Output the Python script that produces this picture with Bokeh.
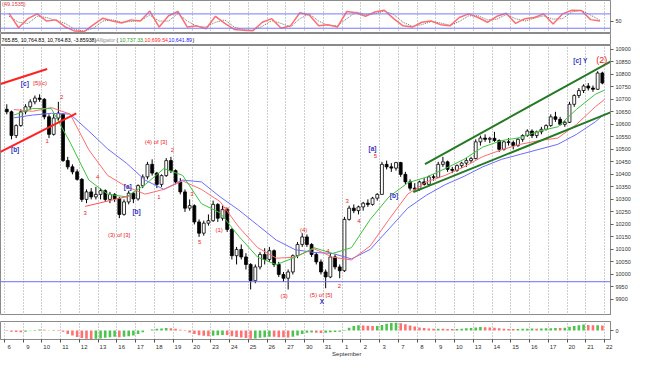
from bokeh.plotting import figure
from bokeh.layouts import column
from bokeh.models import Range1d, FixedTicker, Label, ColumnDataSource, Span
from bokeh.embed import file_html
from bokeh.resources import INLINE
from bokeh.core.properties import value

FONT = "Liberation Sans"

# ---------------- data ----------------
day_labels = ["6", "9", "10", "11", "12", "13", "16", "17", "18", "19", "20", "23", "24", "25",
              "26", "27", "30", "31", "1\nSeptember", "2", "3", "7", "8", "9", "10", "13", "14",
              "15", "16", "17", "20", "21", "22"]
BARS_PER_DAY = 4

opens = [10660, 10650, 10555, 10595, 10650, 10670, 10690, 10705, 10700, 10630, 10560, 10625,
         10640, 10455, 10430, 10410, 10380, 10300, 10330, 10310, 10320, 10335, 10300, 10320,
         10303, 10240, 10290, 10325, 10302, 10355, 10390, 10440, 10405, 10360, 10395, 10455,
         10415, 10370, 10330, 10265, 10275, 10210, 10165, 10205, 10215, 10280, 10225, 10260,
         10180, 10075, 10100, 10070, 10040, 9975, 10030, 10080, 10060, 10095, 10040, 10000,
         9985, 10010, 10075, 10120, 10150, 10120, 10080, 10050, 10010, 9990, 10070, 10030,
         10015, 10220, 10265, 10255, 10270, 10285, 10280, 10305, 10320, 10440, 10430, 10425,
         10447, 10400, 10370, 10345, 10341, 10370, 10360, 10390, 10388, 10440, 10450, 10420,
         10416, 10435, 10445, 10455, 10463, 10530, 10545, 10540, 10544, 10535, 10500, 10530,
         10527, 10515, 10540, 10555, 10573, 10555, 10570, 10580, 10595, 10630, 10620, 10600,
         10608, 10680, 10715, 10735, 10753, 10745, 10740, 10805]
highs = [10680, 10655, 10600, 10660, 10680, 10700, 10715, 10720, 10705, 10640, 10640, 10690,
         10645, 10470, 10440, 10420, 10385, 10340, 10345, 10350, 10345, 10340, 10330, 10325,
         10310, 10300, 10335, 10330, 10360, 10400, 10450, 10460, 10410, 10400, 10465, 10470,
         10420, 10385, 10340, 10300, 10280, 10220, 10215, 10240, 10295, 10285, 10275, 10265,
         10185, 10110, 10120, 10085, 10045, 10040, 10090, 10105, 10110, 10100, 10050, 10010,
         10020, 10080, 10130, 10165, 10160, 10125, 10090, 10060, 10020, 10085, 10080, 10040,
         10230, 10275, 10280, 10275, 10290, 10300, 10310, 10325, 10450, 10455, 10445, 10450,
         10450, 10410, 10380, 10365, 10375, 10385, 10395, 10400, 10450, 10470, 10455, 10430,
         10440, 10450, 10465, 10470, 10540, 10555, 10560, 10550, 10570, 10540, 10535, 10545,
         10535, 10545, 10560, 10580, 10580, 10575, 10590, 10600, 10640, 10650, 10630, 10615,
         10690, 10720, 10745, 10760, 10765, 10755, 10812, 10810]
lows = [10640, 10540, 10545, 10590, 10640, 10660, 10680, 10690, 10620, 10545, 10555, 10615,
        10450, 10420, 10400, 10375, 10290, 10285, 10300, 10300, 10300, 10290, 10285, 10290,
        10225, 10235, 10280, 10285, 10295, 10345, 10380, 10395, 10345, 10350, 10390, 10405,
        10360, 10320, 10250, 10255, 10200, 10150, 10155, 10195, 10210, 10210, 10215, 10170,
        10060, 10040, 10060, 10020, 9940, 9965, 10020, 10040, 10050, 10030, 9990, 9970,
        9940, 10000, 10065, 10110, 10110, 10070, 10040, 10000, 9945, 9985, 10020, 9985,
        10010, 10215, 10245, 10240, 10255, 10270, 10275, 10295, 10318, 10420, 10410, 10415,
        10390, 10360, 10335, 10335, 10335, 10355, 10355, 10375, 10385, 10430, 10410, 10405,
        10410, 10425, 10430, 10445, 10460, 10515, 10530, 10525, 10530, 10490, 10495, 10515,
        10500, 10510, 10530, 10550, 10545, 10545, 10560, 10575, 10590, 10610, 10595, 10590,
        10605, 10670, 10705, 10725, 10735, 10730, 10738, 10760]
closes = [10650, 10555, 10595, 10650, 10670, 10690, 10705, 10700, 10630, 10560, 10625, 10645,
          10455, 10430, 10410, 10380, 10300, 10330, 10310, 10320, 10335, 10300, 10320, 10303,
          10240, 10290, 10325, 10302, 10355, 10390, 10440, 10405, 10360, 10395, 10455, 10415,
          10370, 10330, 10265, 10275, 10210, 10165, 10205, 10215, 10280, 10225, 10260, 10180,
          10075, 10100, 10070, 10040, 9975, 10030, 10080, 10060, 10095, 10040, 10000, 9985,
          10010, 10075, 10120, 10150, 10120, 10080, 10050, 10010, 9990, 10070, 10030, 10015,
          10220, 10265, 10255, 10270, 10285, 10280, 10305, 10320, 10440, 10430, 10425, 10447,
          10400, 10370, 10345, 10341, 10370, 10360, 10390, 10388, 10440, 10450, 10420, 10416,
          10435, 10445, 10455, 10463, 10530, 10545, 10540, 10544, 10535, 10500, 10530, 10527,
          10515, 10540, 10555, 10573, 10555, 10570, 10580, 10595, 10630, 10620, 10600, 10608,
          10680, 10715, 10735, 10753, 10745, 10740, 10805, 10765]

# Alligator lines, one value per day plus the end point
lips = [10637, 10663, 10663, 10528, 10377, 10321, 10310, 10359, 10423, 10396, 10283, 10246,
        10152, 10069, 10039, 10069, 10107, 10084, 10107, 10220, 10310, 10366, 10389, 10423,
        10460, 10509, 10535, 10547, 10573, 10590, 10660, 10720, 10737]
teeth = [10659, 10652, 10667, 10641, 10498, 10396, 10351, 10321, 10340, 10374, 10340, 10291,
         10189, 10107, 10065, 10069, 10103, 10069, 10058, 10114, 10220, 10321, 10370, 10396,
         10430, 10471, 10498, 10520, 10535, 10545, 10600, 10670, 10700]
jaw = [10626, 10637, 10644, 10641, 10573, 10502, 10445, 10377, 10340, 10377, 10370, 10310,
       10257, 10197, 10137, 10099, 10088, 10084, 10062, 10100, 10182, 10265, 10317, 10359,
       10392, 10430, 10460, 10480, 10500, 10520, 10560, 10610, 10642]

# top oscillator, one value per half day
osc_main = [82, 22, 60, 80, 50, 55, 25, 8, 6, 35, 62, 50, 42, 55, 50, 92, 25, 72, 90, 25,
            30, 18, 70, 40, 15, 12, 10, 45, 60, 20, 30, 85, 75, 30, 35, 25, 90, 85, 70, 88,
            95, 60, 30, 25, 45, 50, 35, 30, 65, 80, 65, 45, 70, 83, 40, 60, 65, 80, 38, 80,
            95, 94, 56, 50]
osc_signal = [70, 45, 40, 70, 65, 52, 40, 15, 8, 20, 50, 55, 45, 48, 52, 75, 50, 50, 82, 50,
              28, 25, 45, 55, 25, 14, 12, 28, 52, 40, 25, 60, 80, 50, 32, 30, 60, 88, 78, 80,
              92, 78, 45, 28, 35, 48, 42, 32, 48, 72, 72, 55, 58, 77, 60, 50, 62, 72, 58, 60,
              88, 95, 75, 53]
osc_levels = [20, 80]
osc_title = "(49.1535)"

# bottom histogram, one value per bar
ao = [-10, -20, -28, -30, -20, -5, 10, 20, 15, 5, 10, 8, -20, -60, -90, -115,
      -135, -145, -150, -148, -140, -130, -120, -110, -118, -110, -100, -88, -60, -30, 0, 20,
      30, 35, 45, 40, 30, 15, -10, -35, -60, -85, -95, -100, -95, -85, -80, -82,
      -100, -115, -125, -135, -145, -140, -130, -120, -110, -112, -118, -120, -125, -110, -90, -60,
      -40, -35, -38, -45, -40, -30, -25, -20, 10, 50, 80, 95, 90, 85, 80, 82,
      100, 120, 135, 140, 130, 110, 90, 70, 55, 45, 35, 30, 32, 30, 28, 25,
      28, 32, 40, 45, 55, 62, 60, 55, 48, 40, 32, 28, 25, 28, 30, 33,
      35, 33, 36, 40, 42, 45, 43, 48, 65, 80, 95, 105, 100, 92, 95, 88]

price_ticks = [9900, 9950, 10000, 10050, 10100, 10150, 10200, 10250, 10300, 10350, 10400,
               10450, 10500, 10550, 10600, 10650, 10700, 10750, 10800, 10850, 10900]
support_level = 9971

# trend / channel lines (x in bar units, y in price)
red_upper_x, red_upper_y = [-0.84, 9.11], [10761, 10821]
red_lower_x, red_lower_y = [-0.84, 15.33], [10490, 10644]
red_short_x, red_short_y = [17.19, 26.72], [10272, 10314]
green_upper_x, green_upper_y = [89.68, 129.24], [10441, 10851]
green_lower_x, green_lower_y = [87.19, 129.24], [10329, 10648]

# wave labels
red_text = ["[5](c)", "1", "2", "3", "4", "(3) of [3]", "(4) of [3]", "2", "1", "3", "5",
            "(1)", "(2)", "(3)", "(4)", "(5) of [5]", "4", "2", "3", "4", "5"]
red_x = [7.6, 9.11, 12.22, 17.19, 19.88, 24.44, 32.31, 35.83, 32.93, 39.97, 41.63,
         45.77, 47.22, 59.64, 63.79, 67.51, 68.96, 71.45, 73.11, 75.59, 79.11]
red_y = [10765, 10535, 10708, 10246, 10389, 10159, 10528, 10498, 10310, 10321, 10129,
         10178, 10261, 9915, 10178, 9919, 10095, 9953, 10295, 10212, 10475]
blue_text = ["[c]", "[b]", "[a]", "[b]", "X", "[a]", "[b]", "[c] Y"]
blue_x = [4.35, 2.28, 26.30, 28.17, 67.72, 78.49, 83.05, 122.81]
blue_y = [10765, 10498, 10351, 10253, 9892, 10502, 10314, 10855]
big_text, big_x, big_y = ["(2)"], [127.37], [10859]

header_parts = ["765.85, 10,764.83, 10,764.83, -3.85938)", "Alligator", "(",
                "10,737.33,", "10,699.54,", "10,641.89", ")"]

# ---------------- layout ----------------
W = 634
RB = 24
n = len(closes)
bar_x = [i + 0.5 for i in range(n)]
n_days = len(day_labels)
day_starts = [BARS_PER_DAY * d for d in range(n_days)]
label_ticks = [BARS_PER_DAY * d + 1 for d in range(n_days)]
all_x = [BARS_PER_DAY * d + BARS_PER_DAY / 2 for d in range(len(lips) - 1)] + [n]
osc_x = [2 * k + 1 for k in range(len(osc_main))]

x_range = Range1d(-0.84, 129.24)
GRID = "#9c9c9c"
FRAME = "#8a8a8a"


def make_fig(height, y_range, x_axis=None, y_axis="right", top=0, xr=None):
    p = figure(width=W, height=height, x_range=xr if xr is not None else x_range,
               y_range=y_range, output_backend="svg", toolbar_location=None,
               x_axis_location=x_axis, y_axis_location=y_axis,
               min_border=0, min_border_left=0, min_border_right=RB,
               min_border_top=top, min_border_bottom=0,
               background_fill_color="white", border_fill_color="white",
               outline_line_color=FRAME)
    if y_axis is not None:
        ax = p.yaxis[0]
        ax.axis_line_color = FRAME
        ax.major_tick_line_color = "#606060"
        ax.major_tick_out = 3
        ax.major_tick_in = 0
        ax.minor_tick_out = 0
        ax.minor_tick_in = 0
        ax.major_label_standoff = 2
        ax.major_label_text_font = FONT
        ax.major_label_text_font_size = "5.5px"
        ax.major_label_text_color = "#303030"
    p.xgrid.ticker = FixedTicker(ticks=day_starts)
    p.xgrid.grid_line_color = GRID
    p.xgrid.grid_line_dash = "1 2"
    p.ygrid.visible = False
    return p


# top oscillator panel
top = make_fig(33, Range1d(-2, 136))
top.yaxis[0].ticker = FixedTicker(ticks=[50])
for lvl in osc_levels:
    top.add_layout(Span(location=lvl, dimension="width", line_color="#7878ff", line_width=1))
top.line(osc_x, osc_signal, line_color="#707070", line_width=1, line_dash="1 1")
top.line(osc_x, osc_main, line_color="#ff6e6e", line_width=1.5)
top.add_layout(Label(x=-0.5, y=135, text=osc_title, text_color="#e04040", text_font=FONT,
                     text_font_size="5.5px", text_baseline="top"))

# header strip
hdr = make_fig(12, Range1d(0, 1), y_axis=None, xr=Range1d(0, W - RB))
hdr.xgrid.visible = False
hdr_x = [1, 95.5, 116, 119, 144, 168, 192]
hdr_colors = ["#000000", "#8a8a8a", "#000000", "#1f9a1f", "#ff2020", "#2020ff", "#000000"]
hdr_styles = ["normal", "italic", "normal", "normal", "normal", "normal", "normal"]
for txt, hx, hc, hs in zip(header_parts, hdr_x, hdr_colors, hdr_styles):
    hdr.add_layout(Label(x=hx, y=0.5, text=txt, text_color=hc, text_font=FONT,
                         text_font_size="5.3px", text_font_style=hs, text_baseline="middle"))

# main price panel
main = make_fig(270, Range1d(9836, 10915))
main.yaxis[0].ticker = FixedTicker(ticks=price_ticks)
main.add_layout(Span(location=support_level, dimension="width", line_color="#6e6eff",
                     line_width=1))
src = ColumnDataSource(dict(
    x=bar_x, o=opens, h=highs, l=lows, c=closes,
    top=[max(a, b) for a, b in zip(opens, closes)],
    bottom=[min(a, b) for a, b in zip(opens, closes)],
    fill=["#ffffff" if c >= o else "#000000" for o, c in zip(opens, closes)],
))
main.segment(x0="x", y0="l", x1="x", y1="h", source=src, line_color="#000000", line_width=1)
main.vbar(x="x", width=0.62, top="top", bottom="bottom", fill_color="fill",
          line_color="#000000", line_width=0.8, source=src)
main.line(all_x, jaw, line_color="#6b6bff", line_width=1)
main.line(all_x, teeth, line_color="#ff6b6b", line_width=1)
main.line(all_x, lips, line_color="#3cc43c", line_width=1)
for xs, ys in [(red_upper_x, red_upper_y), (red_lower_x, red_lower_y)]:
    main.line(xs, ys, line_color="#ff2020", line_width=2)
main.line(red_short_x, red_short_y, line_color="#ff5050", line_width=1)
for xs, ys in [(green_upper_x, green_upper_y), (green_lower_x, green_lower_y)]:
    main.line(xs, ys, line_color="#237a23", line_width=2)
main.text(x=red_x, y=red_y, text=red_text, text_color="#ee2020", text_font=value(FONT),
          text_font_size="6px", text_align="center", text_baseline="middle")
main.text(x=blue_x, y=blue_y, text=blue_text, text_color="#3030c0", text_font=value(FONT),
          text_font_size="6.5px", text_font_style="bold", text_align="center",
          text_baseline="middle")
main.text(x=big_x, y=big_y, text=big_text, text_color="#ee2020", text_font=value(FONT),
          text_font_size="9px", text_align="center", text_baseline="middle")

# histogram panel with the date axis
hist = make_fig(44, Range1d(-160, 160), x_axis="below", top=6)
hist.yaxis[0].ticker = FixedTicker(ticks=[0])
ao_colors = ["#ff7070" if i > 0 and ao[i] < ao[i - 1] or i == 0 else "#4cc44c"
             for i in range(len(ao))]
hist.vbar(x=bar_x, top=ao, bottom=0, width=0.55, fill_color=ao_colors, line_color=None)
xa = hist.xaxis[0]
xa.ticker = FixedTicker(ticks=label_ticks, minor_ticks=day_starts)
xa.major_label_overrides = {t: lab for t, lab in zip(label_ticks, day_labels)}
xa.major_tick_out = 0
xa.major_tick_in = 0
xa.minor_tick_out = 3
xa.minor_tick_in = 0
xa.minor_tick_line_color = "#505050"
xa.axis_line_color = FRAME
xa.major_label_standoff = 1
xa.major_label_text_font = FONT
xa.major_label_text_font_size = "6px"
xa.major_label_text_color = "#303030"

layout = column(top, hdr, main, hist, spacing=0)
open("out.html", "w").write(file_html(layout, INLINE))
